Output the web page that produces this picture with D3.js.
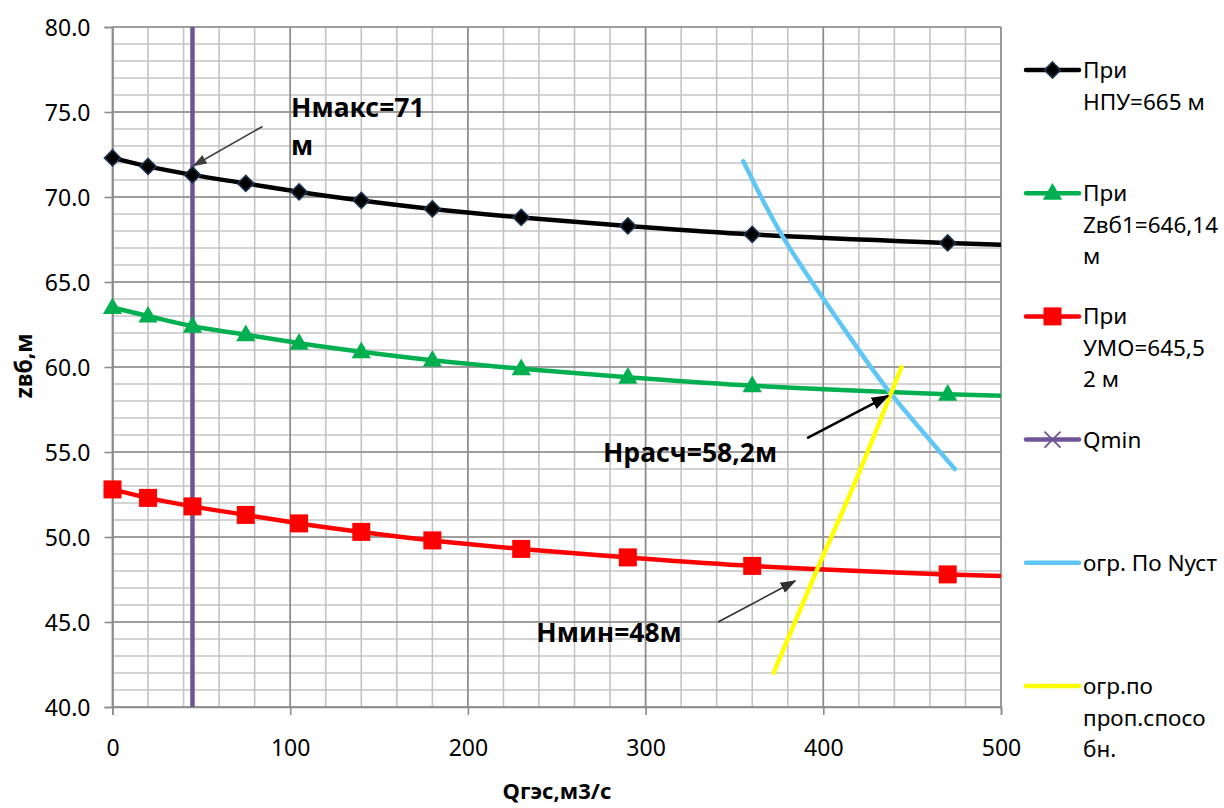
<!DOCTYPE html>
<html>
<head>
<meta charset="utf-8">
<script src="https://cdn.jsdelivr.net/npm/d3@7"></script>
<style>
  html, body { margin: 0; padding: 0; background: #fff; }
  svg { display: block; font-family: "Noto Sans", "Open Sans", sans-serif; }
</style>
</head>
<body>
<svg id="chart" width="1224" height="808"></svg>
<script>
// Расход ГЭС, м3/с (the last point lies past the axis end and is clipped)
const flows = [0, 20, 45, 75, 105, 140, 180, 230, 290, 360, 470, 580];
// Уровень нижнего бьефа при разных уровнях верхнего бьефа
const levelNPU  = [72.3, 71.8, 71.3, 70.8, 70.3, 69.8, 69.3, 68.8, 68.3, 67.8, 67.3, 66.9];
const levelZvb1 = [63.5, 63.0, 62.4, 61.9, 61.4, 60.9, 60.4, 59.9, 59.4, 58.9, 58.4, 58.1];
const levelUMO  = [52.8, 52.3, 51.8, 51.3, 50.8, 50.3, 49.8, 49.3, 48.8, 48.3, 47.8, 47.5];
// Минимальный расход
const qMin = [45, 45];
const qMinLevels = [40, 80];
// Ограничение по установленной мощности
const nustFlows  = [355, 377, 412, 436, 474];
const nustLevels = [72.1, 67.7, 62.2, 58.7, 54.0];
// Ограничение по пропускной способности
const propFlows  = [372, 397, 417, 444];
const propLevels = [42.0, 48.2, 53.0, 60.0];

const xTicks = [0, 100, 200, 300, 400, 500];
const yTicks = [40, 45, 50, 55, 60, 65, 70, 75, 80];

const legendLabels = [
  ["При", "НПУ=665 м"],
  ["При", "Zвб1=646,14", "м"],
  ["При", "УМО=645,5", "2 м"],
  ["Qmin"],
  ["огр. По Nуст"],
  ["огр.по", "проп.спосо", "бн."]
];

// Annotations: text and arrow [from, to] in data units
const notes = [
  { lines: ["Нмакс=71", "м"], at: [100.5, 74.7], from: [84.4, 74.15], to: [45.8, 71.85], w: 1.6, c: "#404040", head: 7 },
  { lines: ["Нрасч=58,2м"], at: [276, 54.4], from: [390.9, 55.82], to: [436.4, 58.3], w: 2.5, c: "#000", head: 9 },
  { lines: ["Нмин=48м"], at: [238.5, 43.8], from: [340.8, 45.0], to: [384.1, 47.41], w: 1.6, c: "#303030", head: 8 }
];

const svg = d3.select("#chart");
const x = d3.scaleLinear().domain([0, 500]).range([112.5, 1001]);
const y = d3.scaleLinear().domain([40, 80]).range([707, 27]);

const defs = svg.append("defs");
defs.append("clipPath").attr("id", "plotClip")
  .append("rect").attr("x", x(0)).attr("y", y(80))
  .attr("width", x(500) - x(0)).attr("height", y(40) - y(80));

// Grid: minor every 20 m3/s and 1 m, major every 100 m3/s and 5 m
const grid = svg.append("g");
grid.selectAll(".vmin").data(d3.range(0, 501, 20)).join("line")
  .attr("x1", d => x(d)).attr("x2", d => x(d))
  .attr("y1", y(40)).attr("y2", y(80))
  .attr("stroke", "#c4c4c4").attr("stroke-width", 1.6);
grid.selectAll(".hmin").data(d3.range(40, 80.5, 1)).join("line")
  .attr("y1", d => y(d)).attr("y2", d => y(d))
  .attr("x1", x(0)).attr("x2", x(500))
  .attr("stroke", "#c4c4c4").attr("stroke-width", 1.6);
grid.selectAll(".vmaj").data(d3.range(0, 501, 100)).join("line")
  .attr("x1", d => x(d)).attr("x2", d => x(d))
  .attr("y1", y(40)).attr("y2", y(80))
  .attr("stroke", "#8c8c8c").attr("stroke-width", 1.6);
grid.selectAll(".hmaj").data(d3.range(40, 81, 5)).join("line")
  .attr("y1", d => y(d)).attr("y2", d => y(d))
  .attr("x1", x(0)).attr("x2", x(500))
  .attr("stroke", "#8c8c8c").attr("stroke-width", 1.6);

// Axes
const xAxis = svg.append("g").attr("transform", `translate(0,${y(40)})`)
  .call(d3.axisBottom(x).tickValues(xTicks).tickSize(8).tickPadding(25).tickFormat(d3.format("d")));
const yAxis = svg.append("g").attr("transform", `translate(${x(0)},0)`)
  .call(d3.axisLeft(y).tickValues(yTicks).tickSize(8).tickPadding(14).tickFormat(d3.format(".1f")));
[xAxis, yAxis].forEach(a => {
  a.select(".domain").attr("stroke", "#8c8c8c").attr("stroke-width", 1.6);
  a.selectAll(".tick line").attr("stroke", "#8c8c8c").attr("stroke-width", 1.6);
  a.selectAll(".tick text").attr("fill", "#000").style("font-size", "23px")
    .style("font-family", '"Noto Sans", sans-serif');
});
yAxis.selectAll(".tick text").attr("dy", "0.36em");

// Axis titles
svg.append("text").attr("x", 557).attr("y", 799).attr("text-anchor", "middle")
  .style("font-size", "22px").style("font-weight", "bold").text("Qгэс,м3/с");
svg.append("text").attr("transform", "translate(32,366) rotate(-90)").attr("text-anchor", "middle")
  .style("font-size", "23px").style("font-weight", "bold").text("zвб,м");

// Series
const plot = svg.append("g").attr("clip-path", "url(#plotClip)");
const markerLayer = svg.append("g");
const smooth = d3.line().curve(d3.curveCatmullRom.alpha(0.5)).x(d => x(d[0])).y(d => y(d[1]));
const straight = d3.line().x(d => x(d[0])).y(d => y(d[1]));
const zip = (a, b) => a.map((v, i) => [v, b[i]]);

const seriesDefs = [
  { pts: zip(flows, levelNPU),  color: "#000000", marker: "diamond" },
  { pts: zip(flows, levelZvb1), color: "#00b050", marker: "triangle" },
  { pts: zip(flows, levelUMO),  color: "#ff0000", marker: "square" },
  { pts: zip(qMin, qMinLevels), color: "#6f5597", marker: null, straight: true },
  { pts: zip(nustFlows, nustLevels), color: "#5fc6f6", marker: null },
  { pts: zip(propFlows, propLevels), color: "#ffff00", marker: null }
];

function drawMarker(g, type, cx, cy, color) {
  if (type === "diamond") {
    g.append("path").attr("d", d3.symbol(d3.symbolDiamond2, 165)())
      .attr("transform", `translate(${cx},${cy})`)
      .attr("fill", "#000").attr("stroke", "#1f3450").attr("stroke-width", 1.6);
  } else if (type === "triangle") {
    g.append("path").attr("d", d3.symbol(d3.symbolTriangle, 160)())
      .attr("transform", `translate(${cx},${cy + 1})`).attr("fill", color);
  } else if (type === "square") {
    g.append("rect").attr("x", cx - 9).attr("y", cy - 9).attr("width", 18).attr("height", 18)
      .attr("fill", color);
  } else if (type === "x") {
    g.append("path").attr("d", `M${cx - 8},${cy - 8}L${cx + 8},${cy + 8}M${cx - 8},${cy + 8}L${cx + 8},${cy - 8}`)
      .attr("stroke", color).attr("stroke-width", 1.8);
  }
}

seriesDefs.forEach(s => {
  plot.append("path").attr("d", (s.straight ? straight : smooth)(s.pts))
    .attr("fill", "none").attr("stroke", s.color).attr("stroke-width", 4.5)
    .attr("stroke-linecap", "round");
  if (s.marker) {
    const mg = markerLayer.append("g");
    s.pts.filter(p => p[0] <= 500)
      .forEach(p => drawMarker(mg, s.marker, x(p[0]), y(p[1]), s.color));
  }
});

// Annotations
notes.forEach((n, i) => {
  const id = "ah" + i;
  defs.append("marker").attr("id", id).attr("viewBox", "0 0 10 10")
    .attr("refX", 9).attr("refY", 5).attr("markerUnits", "userSpaceOnUse")
    .attr("markerWidth", n.head * 2).attr("markerHeight", n.head * 2).attr("orient", "auto")
    .append("path").attr("d", "M0,1.5L10,5L0,8.5Z").attr("fill", n.c);
  svg.append("line")
    .attr("x1", x(n.from[0])).attr("y1", y(n.from[1]))
    .attr("x2", x(n.to[0])).attr("y2", y(n.to[1]))
    .attr("stroke", n.c).attr("stroke-width", n.w).attr("marker-end", `url(#${id})`);
  const t = svg.append("text").attr("x", x(n.at[0])).attr("y", y(n.at[1]))
    .style("font-size", "26.5px").style("font-weight", "bold");
  n.lines.forEach((ln, j) => t.append("tspan").attr("x", x(n.at[0])).attr("dy", j ? 38 : 0).text(ln));
});

// Legend
const legend = svg.append("g");
const legendStep = 123.2;
seriesDefs.forEach((s, i) => {
  const cy = 70 + i * legendStep;
  const g = legend.append("g");
  g.append("line").attr("x1", 1026).attr("x2", 1079).attr("y1", cy).attr("y2", cy)
    .attr("stroke", s.color).attr("stroke-width", 4.5).attr("stroke-linecap", "round");
  drawMarker(g, i === 3 ? "x" : s.marker, 1052.5, cy, s.color);
  const t = g.append("text").attr("x", 1083).attr("y", cy + 8).style("font-size", "22.5px");
  legendLabels[i].forEach((ln, j) => t.append("tspan").attr("x", 1083).attr("dy", j ? 31.5 : 0).text(ln));
});
</script>
</body>
</html>
